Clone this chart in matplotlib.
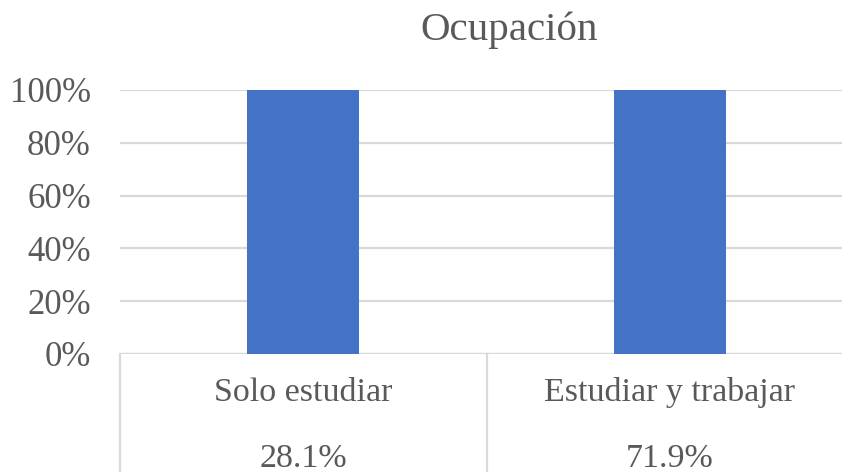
import numpy as np
import matplotlib.pyplot as plt
from matplotlib.transforms import blended_transform_factory

categories = ["Solo estudiar", "Estudiar y trabajar"]
values = [28.1, 71.9]  # shown in the data table
# 100% stacked column with a single series -> every column fills to 100%
shares = np.array(values) / np.array(values)

plt.rcParams["font.family"] = ["Liberation Serif", "DejaVu Serif"]
grey = "#595959"
line = "#d9d9d9"

fig = plt.figure(figsize=(8.42, 4.72), dpi=100)
W, H = 842, 472
x0, x1, y0, y1 = 120, 853, 354, 90
ax = fig.add_axes([x0 / W, (H - y0) / H, (x1 - x0) / W, (y0 - y1) / H])

x = np.arange(len(categories))
ax.bar(x, shares, width=0.306, color="#4472C4", zorder=3)
ax.set_xlim(-0.5, 1.5)
ax.set_ylim(0, 1)
ax.set_yticks(np.arange(0, 1.01, 0.2))
ax.set_yticklabels([f"{int(round(t * 100))}%" for t in np.arange(0, 1.01, 0.2)],
                   fontsize=25, color=grey)
ax.tick_params(axis="y", length=0, pad=21)
ax.set_xticks([])
ax.grid(axis="y", color=line, linewidth=1.6, zorder=0)
for s in ["top", "right", "left", "bottom"]:
    ax.spines[s].set_visible(False)
ax.axhline(0, color=line, linewidth=1.6, zorder=2)

# data table below the axis
tr = blended_transform_factory(ax.transData, fig.transFigure)
for xb in [-0.5, 0.5, 1.5]:
    ax.plot([xb, xb], [(H - y0) / H, -0.05], transform=tr, color=line,
            linewidth=1.6, clip_on=False)
for i, (c, v) in enumerate(zip(categories, values)):
    ax.text(i, (H - 393) / H, c, transform=tr, ha="center", va="center",
            fontsize=24.5, color=grey)
    ax.text(i, (H - 459) / H, f"{v:.1f}%", transform=tr, ha="center",
            va="center", fontsize=24.5, color=grey)

fig.text(509 / W, (H - 30) / H, "Ocupación", ha="center", va="center",
         fontsize=29.5, color=grey)

fig.savefig("out.png", dpi=100)
